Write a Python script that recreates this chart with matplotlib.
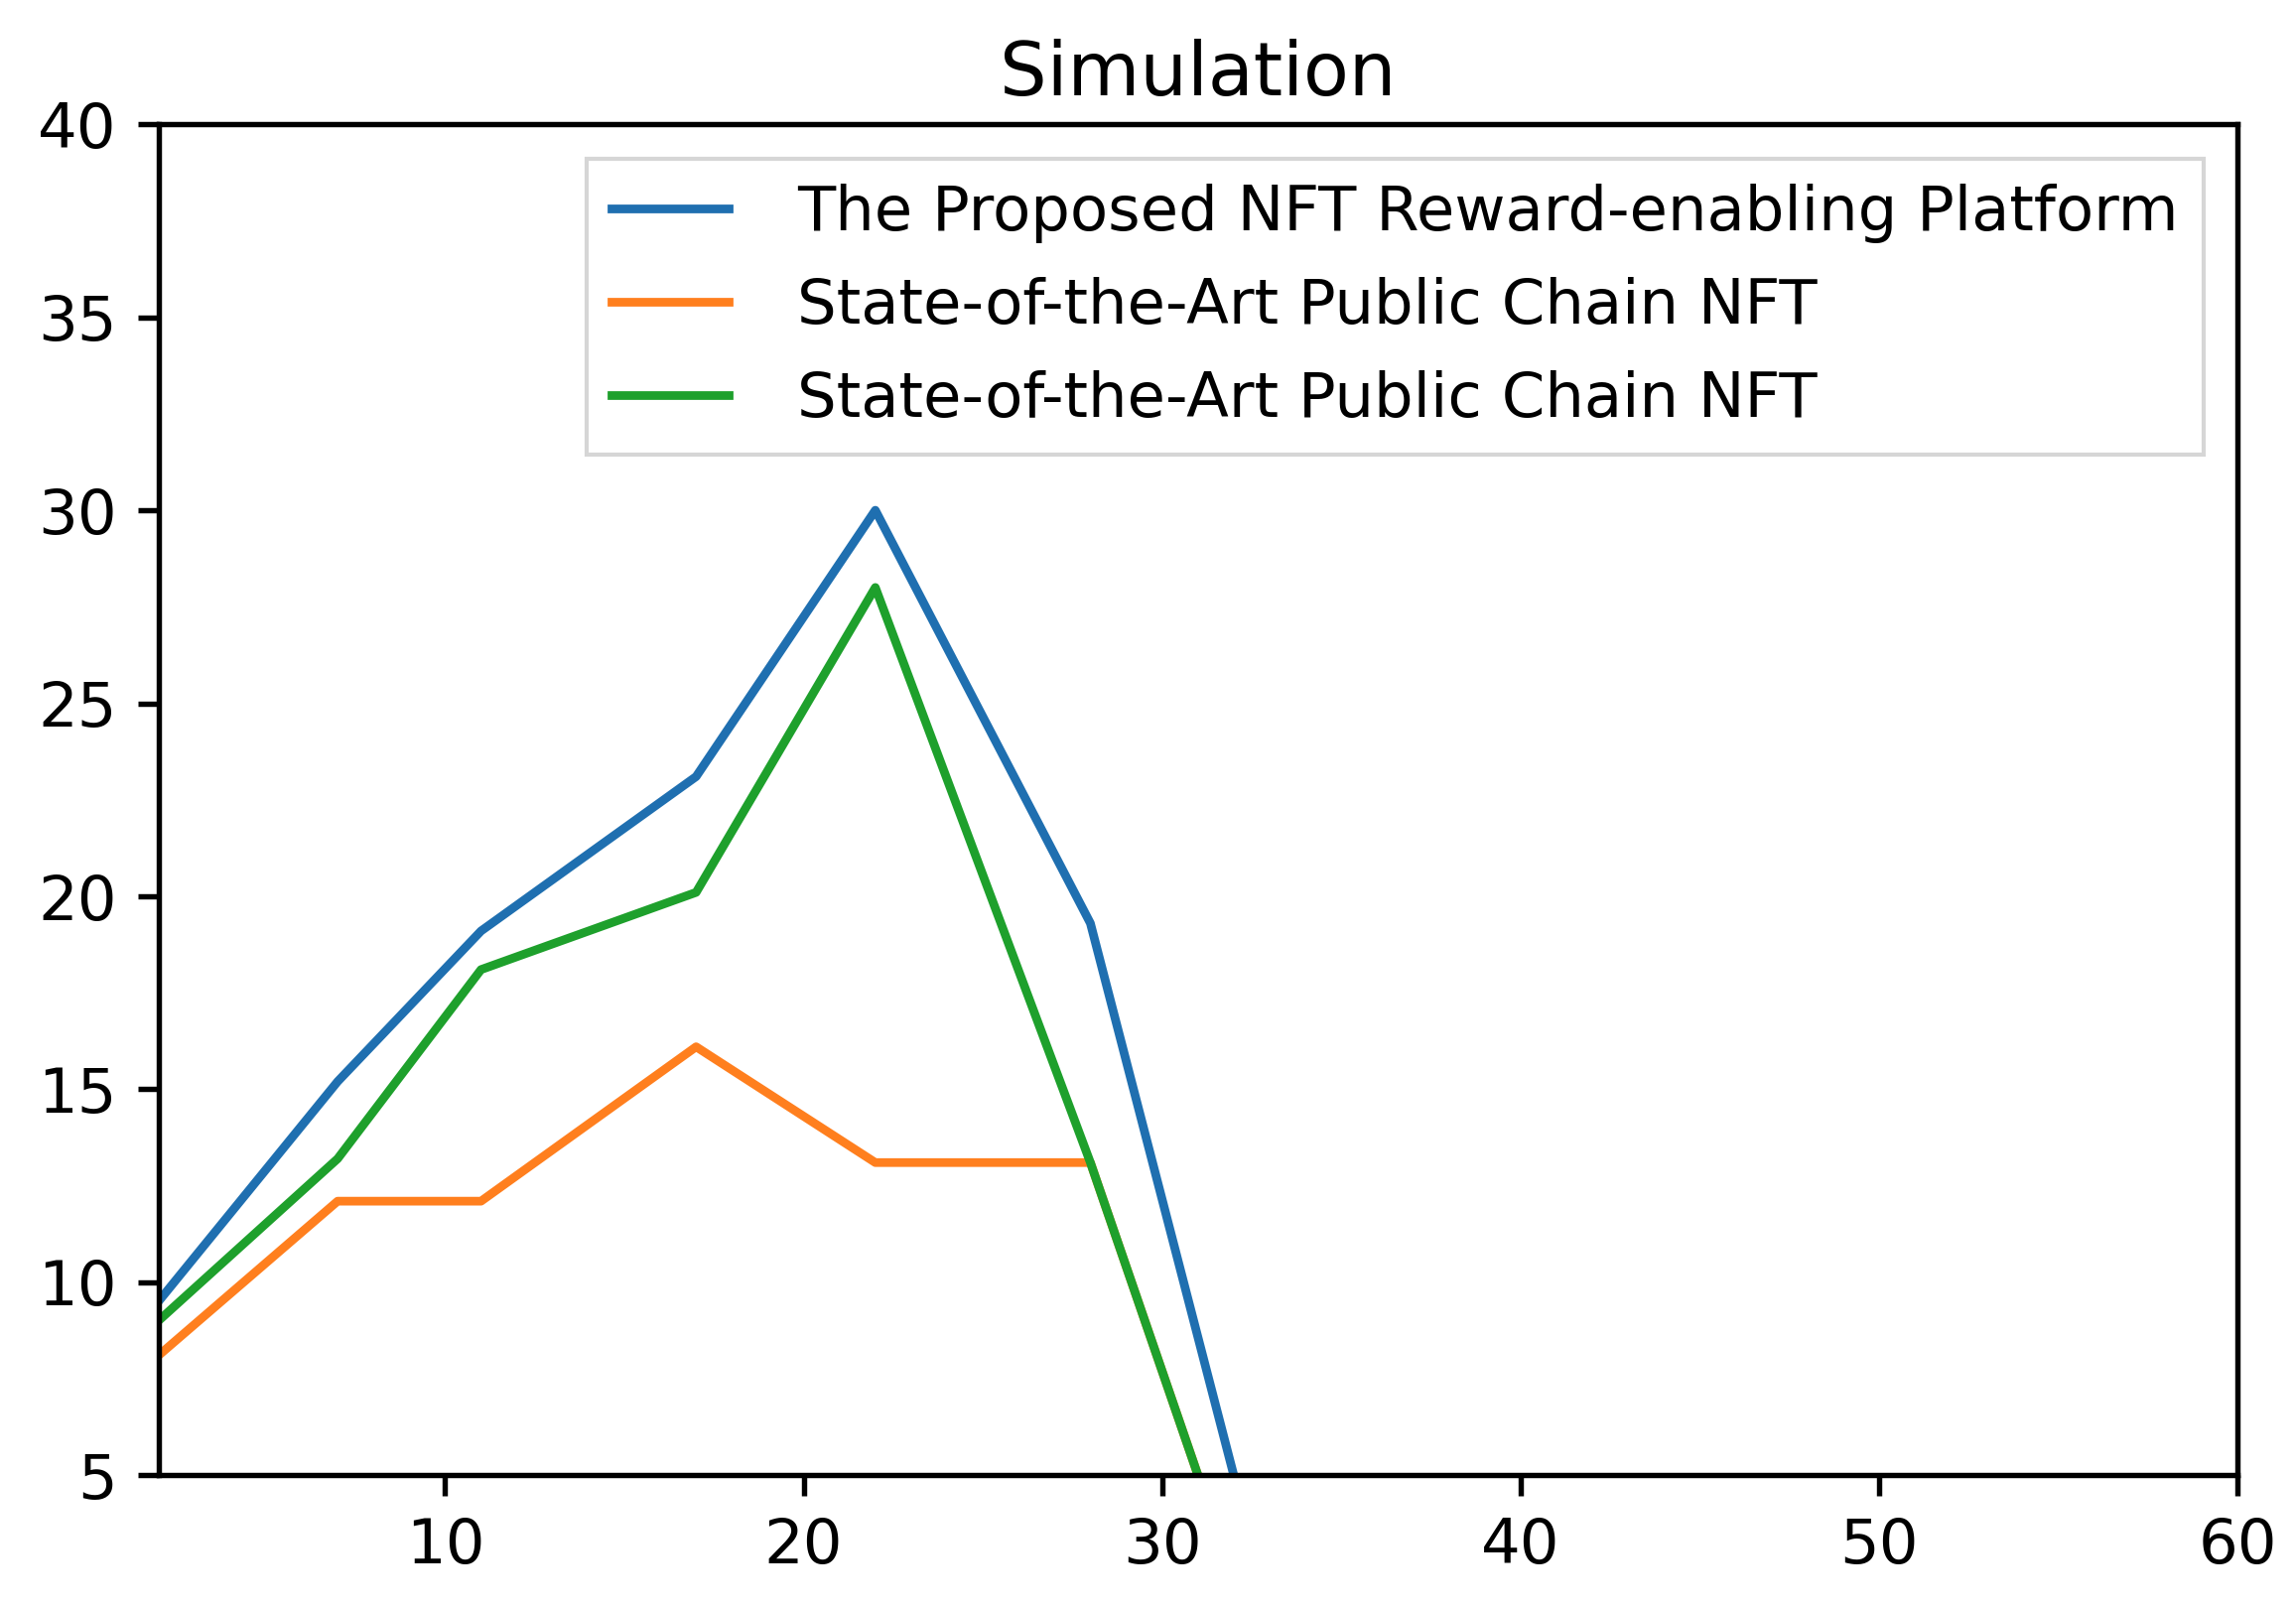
import matplotlib
matplotlib.use('Agg')
import matplotlib.pyplot as plt

# Data
x_proposed = [2, 7, 11, 17, 22, 28, 32]
y_proposed = [9.5, 15.2, 19.1, 23.1, 30.0, 19.3, 5.0]

x_public_a = [2, 7, 11, 17, 22, 28, 31]
y_public_a = [8.1, 12.1, 12.1, 16.1, 13.1, 13.1, 5.0]

x_public_b = [2, 7, 11, 17, 22, 28, 31]
y_public_b = [9.0, 13.2, 18.1, 20.1, 28.0, 13.1, 5.0]

labels = ['The Proposed NFT Reward-enabling Platform',
          'State-of-the-Art Public Chain NFT',
          'State-of-the-Art Public Chain NFT']

plt.rcParams['font.family'] = ['DejaVu Sans']

fig = plt.figure(figsize=(7.71, 5.397), dpi=300)
ax = fig.add_axes([0.069, 0.082, 0.9055, 0.8406])

ax.plot(x_proposed, y_proposed, color='#1f6fb0', lw=2.1, label=labels[0])
ax.plot(x_public_a, y_public_a, color='#ff7f1e', lw=2.1, label=labels[1])
ax.plot(x_public_b, y_public_b, color='#1ea02c', lw=2.1, label=labels[2])

ax.set_xlim(2, 60)
ax.set_ylim(5, 40)
ax.set_xticks([10, 20, 30, 40, 50, 60])
ax.set_yticks([5, 10, 15, 20, 25, 30, 35, 40])
ax.tick_params(labelsize=15, width=1.3, length=5, pad=5)
for s in ax.spines.values():
    s.set_linewidth(1.3)

ax.set_title('Simulation', fontsize=18, pad=7)
ax.legend(loc='upper right', fontsize=15, labelspacing=0.55,
          handlelength=1.9, handletextpad=1.1, fancybox=False,
          borderpad=0.4, borderaxespad=0.55)

fig.savefig('out.png', dpi=300)
